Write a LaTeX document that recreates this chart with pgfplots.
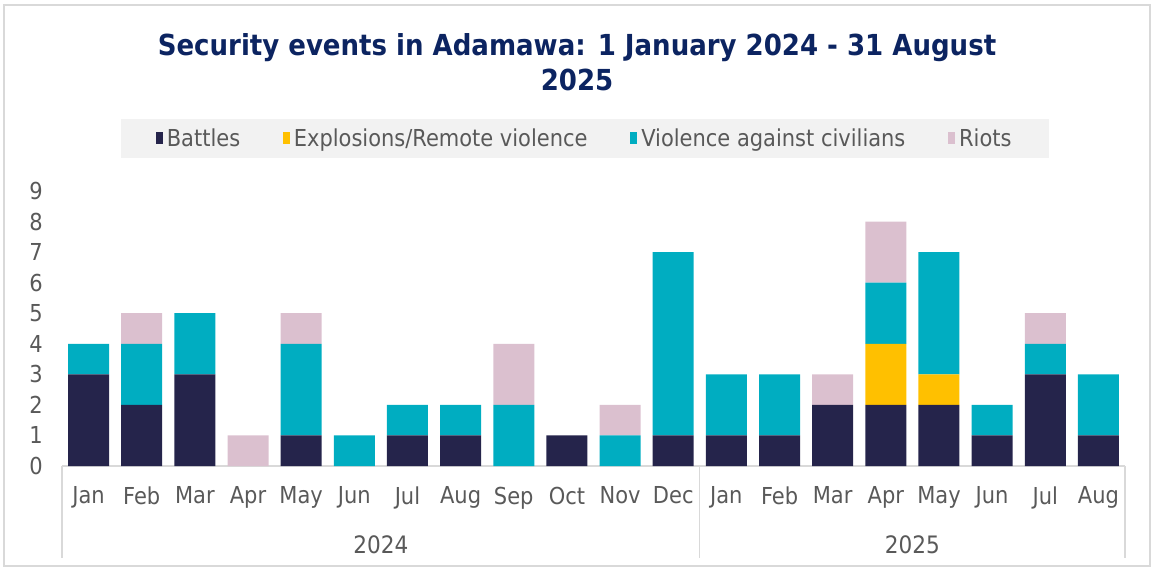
\documentclass[border=0pt]{standalone}
\usepackage{fontspec}
\setmainfont{DejaVu Sans Condensed}
\usepackage{pgfplots}
\pgfplotsset{compat=1.18}
\usepackage{pgfplotstable}
\definecolor{cBat}{HTML}{25244B}
\definecolor{cExp}{HTML}{FFC000}
\definecolor{cVac}{HTML}{00ADC1}
\definecolor{cRio}{HTML}{DBC0CF}
\definecolor{cTitle}{HTML}{0C2461}
\definecolor{cText}{HTML}{595959}
\definecolor{cLine}{HTML}{D9D9D9}
\definecolor{cLeg}{HTML}{F2F2F2}
\pgfplotstableread{
x B E V R
0 3 0 1 0
1 2 0 2 1
2 3 0 2 0
3 0 0 0 1
4 1 0 3 1
5 0 0 1 0
6 1 0 1 0
7 1 0 1 0
8 0 0 2 2
9 1 0 0 0
10 0 0 1 1
11 1 0 6 0
12 1 0 2 0
13 1 0 2 0
14 2 0 0 1
15 2 2 2 2
16 2 1 4 0
17 1 0 1 0
18 3 0 1 1
19 1 0 2 0
}\data
\begin{document}
\begin{tikzpicture}
\useasboundingbox (0,0) rectangle (863.25pt,425.25pt);
\draw[cLine, line width=1.2pt] (4*0.75pt,1*0.75pt) rectangle (1150*0.75pt,562*0.75pt);
\node[font=\fontsize{21.7}{26.5}\selectfont\bfseries, text=cTitle, align=center] at (577*0.75pt,{(567-62)*0.75pt}) {Security events in Adamawa: 1 January 2024 - 31 August\\2025};
\begin{axis}[
  at={(62*0.75pt,101*0.75pt)}, anchor=south west,
  scale only axis, width=797.25pt, height=206.25pt,
  ybar stacked, bar width=30.75pt,
  xmin=-0.5, xmax=19.5, ymin=0, ymax=9,
  axis x line=bottom, axis y line=left,
  x axis line style={draw=cLine, line width=1pt, -},
  y axis line style={draw=none},
  major tick length=0pt,
  ytick={0,1,...,9},
  xtick={0,1,...,19},
  xticklabels={Jan,Feb,Mar,Apr,May,Jun,Jul,Aug,Sep,Oct,Nov,Dec,Jan,Feb,Mar,Apr,May,Jun,Jul,Aug},
  ticklabel style={font=\fontsize{17.5}{20}\selectfont, text=cText},
  /pgf/number format/assume math mode=true,
  yticklabel style={xshift=-11pt},
  xticklabel style={yshift=-12pt},
  clip=false,
  legend style={at={(0.492,1.191)}, anchor=center, fill=cLeg, draw=none,
    legend columns=4, font=\fontsize{17.5}{20}\selectfont, text=cText,
    inner xsep=26pt, inner ysep=5pt,
    /tikz/every even column/.append style={column sep=30pt},
    /tikz/every odd column/.append style={column sep=1pt}},
  legend image code/.code={\fill[#1] (-2pt,-4.5pt) rectangle (3.25pt,4.5pt);},
  every axis plot/.append style={draw=none},
]
\addplot[fill=cBat] table[x=x,y=B]{\data};
\addplot[fill=cExp] table[x=x,y=E]{\data};
\addplot[fill=cVac] table[x=x,y=V]{\data};
\addplot[fill=cRio] table[x=x,y=R]{\data};
\legend{Battles,Explosions/Remote violence,Violence against civilians,Riots}
\draw[cLine, line width=1pt] (axis cs:-0.5,0) -- ([yshift=-69pt]axis cs:-0.5,0);
\draw[cLine, line width=1pt] (axis cs:11.5,0) -- ([yshift=-69pt]axis cs:11.5,0);
\draw[cLine, line width=1pt] (axis cs:19.5,0) -- ([yshift=-69pt]axis cs:19.5,0);
\node[font=\fontsize{18}{20}\selectfont, text=cText] at ([yshift=-59pt]axis cs:5.5,0) {2024};
\node[font=\fontsize{18}{20}\selectfont, text=cText] at ([yshift=-59pt]axis cs:15.5,0) {2025};
\end{axis}
\end{tikzpicture}
\end{document}
